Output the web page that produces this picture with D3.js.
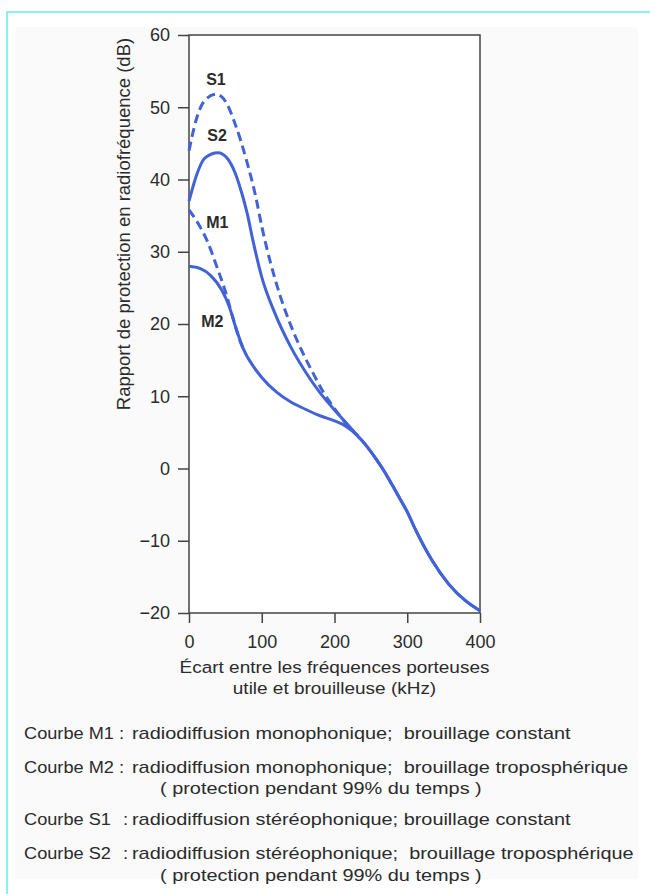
<!DOCTYPE html>
<html>
<head>
<meta charset="utf-8">
<script src="https://cdnjs.cloudflare.com/ajax/libs/d3/7.8.5/d3.min.js"></script>
<style>
	body { margin: 0; background: #fff; }
	svg { display: block; font-family: "Liberation Sans", Arial, sans-serif; }
</style>
</head>
<body>
<svg class="chartArea"></svg>
<script>
/* Protection ratio curves (M1, M2, S1, S2) drawn with d3 */

// curve readings: offset in kHz, protection ratio in dB
var m1KHz = [0, 12, 25, 38, 50, 60, 70, 75];
var m1DB  = [35.8, 34, 31.5, 28, 24.5, 21, 17.7, 16.5];

var m2KHz = [0, 15, 30, 45, 55, 65, 75, 88, 100, 120, 140, 160, 180, 200, 215, 232];
var m2DB  = [28, 27.7, 26.7, 24.7, 22.5, 19.3, 16.5, 14.2, 12.6, 10.6, 9.2, 8.2, 7.3, 6.6, 5.9, 4.5];

var s1KHz = [0, 10, 22, 38, 52, 63, 80, 92, 100, 112, 125, 140, 155, 170, 185, 200, 216, 232];
var s1DB  = [44, 48.3, 51, 51.8, 50.5, 47.8, 42.3, 37.5, 33.5, 28.5, 24, 19.8, 16.3, 13.3, 10.5, 8.3, 6.2, 4.5];

var s2KHz = [0, 10, 22, 40, 52, 63, 72, 80, 88, 100, 118, 140, 160, 180, 200, 218, 232];
var s2DB  = [37, 40.5, 43, 43.7, 43, 41, 38.3, 35.3, 31.5, 26.5, 21.5, 16.8, 13.4, 10.5, 8.1, 6.1, 4.5];

// common tail shared by the solid curves once they merge
var tailKHz = [245, 258, 266, 280, 289, 300, 312, 334, 357, 380, 400];
var tailDB  = [3.0, 1.2, 0, -2.4, -4, -6, -8.6, -12.7, -16, -18.3, -19.7];

var xTicks = [0, 100, 200, 300, 400];
var yTicks = [-20, -10, 0, 10, 20, 30, 40, 50, 60];

var curveNames = ["M1", "M2", "S1", "S2"];
var legendNames = ["Courbe M1", "Courbe M2", "Courbe S1", "Courbe S2"];
var legendTexts = [
	["radiodiffusion monophonique;  brouillage constant"],
	["radiodiffusion monophonique;  brouillage troposphérique", "( protection pendant 99% du temps )"],
	["radiodiffusion stéréophonique; brouillage constant"],
	["radiodiffusion stéréophonique;  brouillage troposphérique", "( protection pendant 99% du temps )"]
];
var xTitle = ["Écart entre les fréquences porteuses", "utile et brouilleuse (kHz)"];
var yTitle = "Rapport de protection en radiofréquence (dB)";

draw_chart("chartArea");

function draw_chart(areaID) {

	var totalWidth = 650,
		totalHeight = 894;
	var plot = {left: 189, right: 480, top: 35, bottom: 613};
	var lineColor = "#4262d8",
		inkColor = "#2b2b2b";

	var svg = d3.select("." + areaID)
		.attr("width", totalWidth)
		.attr("height", totalHeight);

	// page frame (scan border) and faint paper tone
	svg.append("rect")
		.attr("x", 15).attr("y", 27)
		.attr("width", 623).attr("height", 852)
		.attr("fill", "#fafafa");
	svg.append("path")
		.attr("d", "M7," + totalHeight + "V12H" + totalWidth)
		.attr("fill", "none")
		.attr("stroke", "#62eaf0")
		.attr("stroke-width", 1.5);

	var x = d3.scaleLinear().domain([0, 400]).range([plot.left, plot.right]);
	var y = d3.scaleLinear().domain([-20, 60]).range([plot.bottom, plot.top]);

	// white plot area with frame
	svg.append("rect")
		.attr("x", plot.left).attr("y", plot.top)
		.attr("width", plot.right - plot.left)
		.attr("height", plot.bottom - plot.top)
		.attr("fill", "#fff")
		.attr("stroke", "#444")
		.attr("stroke-width", 1.5);

	// axes
	var yAxis = svg.append("g")
		.attr("transform", "translate(" + plot.left + ",0)")
		.call(d3.axisLeft(y).tickValues(yTicks).tickSize(11).tickPadding(8).tickSizeOuter(0));
	var xAxis = svg.append("g")
		.attr("transform", "translate(0," + plot.bottom + ")")
		.call(d3.axisBottom(x).tickValues(xTicks).tickSize(10).tickPadding(12).tickSizeOuter(0));
	[xAxis, yAxis].forEach(function(ax) {
		ax.select(".domain").remove();
		ax.selectAll(".tick line").attr("stroke", "#444").attr("stroke-width", 1.5);
		ax.selectAll(".tick text")
			.attr("fill", inkColor)
			.style("font-size", "18px")
			.style("font-family", "'Liberation Sans', Arial, sans-serif");
	});

	// build series from the arrays
	function zipSeries(ks, ds) {
		return ks.map(function(k, i) { return {k: k, db: ds[i]}; });
	}
	var series = [
		{name: "M2", pts: zipSeries(m2KHz.concat(tailKHz), m2DB.concat(tailDB)), dashed: false},
		{name: "S2", pts: zipSeries(s2KHz.concat(tailKHz), s2DB.concat(tailDB)), dashed: false},
		{name: "M1", pts: zipSeries(m1KHz, m1DB), dashed: true},
		{name: "S1", pts: zipSeries(s1KHz, s1DB), dashed: true}
	];

	var line = d3.line()
		.x(function(d) { return x(d.k); })
		.y(function(d) { return y(d.db); })
		.curve(d3.curveMonotoneX);

	svg.selectAll(".curve")
		.data(series)
	  .enter()
		.append("path")
		.attr("class", "curve")
		.attr("d", function(d) { return line(d.pts); })
		.attr("fill", "none")
		.attr("stroke", lineColor)
		.attr("stroke-width", 3)
		.attr("stroke-dasharray", function(d) { return d.dashed ? "9,5" : null; });

	// curve labels, placed next to the curves they name
	var labelPos = {S1: [37, 53.1], S2: [38.5, 45.3], M1: [39, 33.3], M2: [32, 19.6]};
	curveNames.forEach(function(n) {
		svg.append("text")
			.attr("x", x(labelPos[n][0]))
			.attr("y", y(labelPos[n][1]))
			.attr("text-anchor", "middle")
			.attr("fill", inkColor)
			.style("font-size", "16px")
			.style("font-weight", "600")
			.text(n);
	});

	// text helper with slight horizontal stretch as in the scan
	function addText(str, px, py, size, anchor, sx) {
		return svg.append("text")
			.attr("transform", "translate(" + px + "," + py + ") scale(" + sx + ",1)")
			.attr("text-anchor", anchor)
			.attr("fill", inkColor)
			.style("font-size", size + "px")
			.style("white-space", "pre")
			.text(str);
	}

	// axis titles
	addText(xTitle[0], (plot.left + plot.right) / 2, 673, 16.5, "middle", 1.15);
	addText(xTitle[1], (plot.left + plot.right) / 2, 694, 16.5, "middle", 1.15);
	svg.append("text")
		.attr("transform", "translate(130,224) rotate(-90)")
		.attr("text-anchor", "middle")
		.attr("fill", inkColor)
		.style("font-size", "18.5px")
		.text(yTitle);

	// legend block under the chart
	var rowY = [[739], [773, 794], [825], [859, 881]];
	var colonX = [119, 119, 123, 123];
	legendNames.forEach(function(lab, i) {
		addText(lab, 24, rowY[i][0], 17, "start", 1.07);
		addText(":", colonX[i], rowY[i][0], 17, "start", 1.1);
		legendTexts[i].forEach(function(t, j) {
			addText(t, j === 0 ? 132 : 160, rowY[i][j], 17, "start", 1.17);
		});
	});
}
</script>
</body>
</html>
